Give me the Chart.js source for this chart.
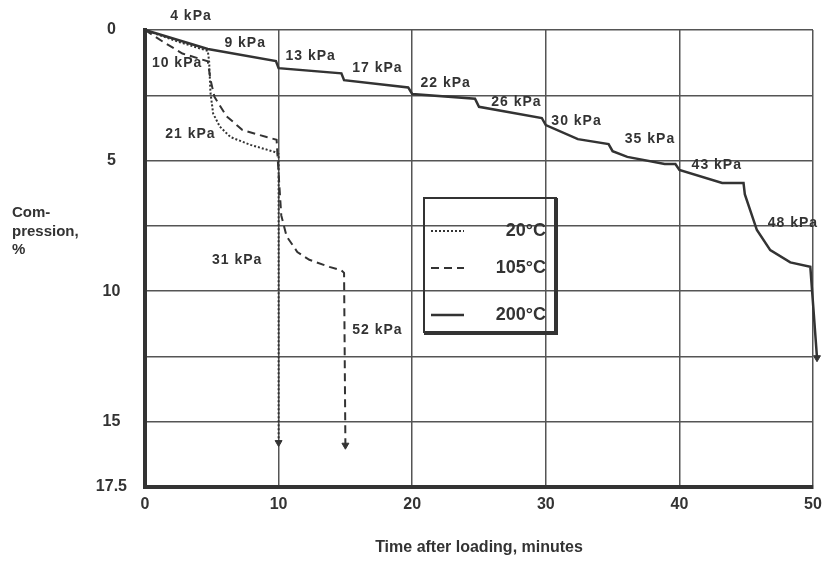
<!DOCTYPE html>
<html>
<head>
<meta charset="utf-8">
<script src="https://cdn.jsdelivr.net/npm/chart.js@4.4.1/dist/chart.umd.min.js"></script>
<style>
  html, body { margin: 0; padding: 0; background: #fff; }
  #wrap { width: 825px; height: 561px; }
</style>
</head>
<body>
<div id="wrap"><canvas id="chart"></canvas></div>
<script>
// time (min) and compression (%)
const t20 = [0, 2.5, 4.7, 4.8, 4.9, 5.1, 5.6, 6.4, 7.9, 9.7, 10, 10];
const c20 = [0, 0.45, 0.8, 1.2, 2.4, 3.2, 3.7, 4.1, 4.4, 4.67, 4.75, 15.8];

const t105 = [0, 1.35, 2.8, 4.7, 4.9, 5.2, 6.1, 7.3, 9.1, 9.85, 10.0, 10.2, 10.6, 11.4, 12.3, 13.8, 14.7, 14.9, 15];
const c105 = [0, 0.45, 0.9, 1.2, 1.9, 2.56, 3.3, 3.83, 4.1, 4.2, 5.5, 7.1, 7.9, 8.5, 8.8, 9.07, 9.2, 9.3, 15.9];

const t200 = [0, 4.7, 9.8, 10, 14.7, 14.9, 19.7, 20, 24.7, 25, 29.7, 30, 32.4, 34.7, 35, 36.1, 38.9, 39.7, 40, 43.2, 44.8, 44.9, 45.8, 46.8, 48.3, 49.8, 50.3];
const c200 = [0, 0.73, 1.19, 1.46, 1.66, 1.92, 2.2, 2.45, 2.63, 2.94, 3.37, 3.64, 4.18, 4.37, 4.64, 4.86, 5.13, 5.13, 5.36, 5.86, 5.86, 6.3, 7.66, 8.43, 8.9, 9.07, 12.55];

// load labels and where they sit (time, compression)
const loadLabels = ['4 kPa', '9 kPa', '10 kPa', '13 kPa', '17 kPa', '21 kPa', '22 kPa', '26 kPa', '30 kPa', '35 kPa', '43 kPa', '48 kPa', '31 kPa', '52 kPa'];
const loadT = [3.44, 7.5, 2.4, 12.4, 17.4, 3.4, 22.5, 27.8, 32.3, 37.8, 42.8, 48.5, 6.9, 17.4];
const loadC = [-0.54, 0.5, 1.26, 1.0, 1.46, 4.0, 2.03, 2.76, 3.49, 4.18, 5.17, 7.4, 8.81, 11.5];

const yTicks = [0, 2.5, 5, 7.5, 10, 12.5, 15, 17.5];
const yLabelled = [0, 5, 10, 15, 17.5];

const FONT = '"Liberation Sans", Arial, sans-serif';
const INK = '#333';

function pts(ts, cs) {
  return ts.map((t, i) => ({ x: t, y: cs[i] }));
}

function arrowRadius(ctx) {
  return ctx.dataIndex === ctx.dataset.data.length - 1 ? 4 : 0;
}

function series(label, ts, cs, dash, width) {
  return {
    label,
    data: pts(ts, cs),
    borderColor: INK,
    backgroundColor: INK,
    borderWidth: width,
    borderDash: dash,
    tension: 0,
    clip: false,
    pointStyle: 'triangle',
    rotation: 180,
    pointRadius: arrowRadius,
    pointBorderWidth: 1,
    pointHoverRadius: 0,
  };
}

const extras = {
  id: 'extras',
  afterDatasetsDraw(chart) {
    const { ctx, scales: { x, y } } = chart;
    ctx.save();
    ctx.fillStyle = INK;

    // load labels
    ctx.font = 'bold 14px ' + FONT;
    ctx.letterSpacing = '1px';
    ctx.textAlign = 'center';
    ctx.textBaseline = 'middle';
    loadLabels.forEach((txt, i) => {
      ctx.fillText(txt, x.getPixelForValue(loadT[i]), y.getPixelForValue(loadC[i]));
    });
    ctx.letterSpacing = '0px';

    // y axis title
    ctx.font = 'bold 15px ' + FONT;
    ctx.textAlign = 'left';
    ['Com-', 'pression,', '%'].forEach((line, i) => {
      ctx.fillText(line, 12, 213 + i * 18.5);
    });

    // legend box
    ctx.strokeStyle = INK;
    ctx.lineWidth = 2;
    ctx.strokeRect(424, 198, 132, 134);
    ctx.lineWidth = 4;
    ctx.beginPath();
    ctx.moveTo(556, 198);
    ctx.lineTo(556, 333);
    ctx.lineTo(424, 333);
    ctx.stroke();

    const rows = [231, 268, 315];
    ctx.font = 'bold 18px ' + FONT;
    ctx.textAlign = 'right';
    chart.data.datasets.forEach((ds, i) => {
      ctx.setLineDash(ds.borderDash);
      ctx.lineWidth = ds.borderWidth;
      ctx.beginPath();
      ctx.moveTo(431, rows[i]);
      ctx.lineTo(464, rows[i]);
      ctx.stroke();
      ctx.setLineDash([]);
      ctx.fillText(ds.label, 546, rows[i]);
    });
    ctx.restore();
  }
};

new Chart(document.getElementById('chart'), {
  type: 'line',
  data: {
    datasets: [
      series('20°C', t20, c20, [2, 2], 2),
      series('105°C', t105, c105, [8, 5], 2),
      series('200°C', t200, c200, [], 2.5),
    ],
  },
  options: {
    responsive: true,
    maintainAspectRatio: false,
    animation: false,
    layout: { padding: { top: 30, right: 12, left: 0, bottom: 0 } },
    plugins: {
      legend: { display: false },
      tooltip: { enabled: false },
    },
    scales: {
      x: {
        type: 'linear',
        min: 0,
        max: 50,
        ticks: { stepSize: 10, color: INK, padding: 8, font: { family: FONT, size: 16, weight: 'bold' } },
        grid: { color: '#555', lineWidth: 1.5, drawTicks: false },
        border: { color: INK, width: 4 },
        title: {
          display: true,
          text: 'Time after loading, minutes',
          color: INK,
          font: { family: FONT, size: 16, weight: 'bold' },
          padding: { top: 0, bottom: 4 },
        },
        afterFit: (s) => { s.height = 561 - 487; s.paddingLeft = 0; s.paddingRight = 0; },
      },
      y: {
        type: 'linear',
        min: 0,
        max: 17.5,
        reverse: true,
        afterBuildTicks: (s) => { s.ticks = yTicks.map(v => ({ value: v })); },
        ticks: {
          color: INK,
          padding: 18,
          crossAlign: 'center',
          font: { family: FONT, size: 16, weight: 'bold' },
          callback: (v) => yLabelled.includes(v) ? String(v) : '',
        },
        grid: { color: '#555', lineWidth: 1.5, drawTicks: false },
        border: { color: INK, width: 4 },
        afterFit: (s) => { s.width = 145; s.paddingTop = 0; s.paddingBottom = 0; },
      },
    },
  },
  plugins: [extras],
});
</script>
</body>
</html>
